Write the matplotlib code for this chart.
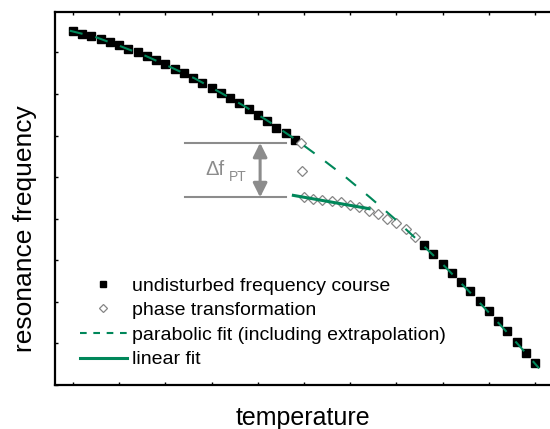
import matplotlib.pyplot as plt
from matplotlib.lines import Line2D

plt.rcParams['font.family'] = ['Liberation Sans', 'DejaVu Sans']

green = '#00875a'
grey = '#8c8c8c'

# undisturbed frequency course (arbitrary units)
temp_undisturbed = [0.0, 0.2, 0.4, 0.6, 0.8, 1.0, 1.2, 1.4, 1.6, 1.8,
                    2.0, 2.2, 2.4, 2.6, 2.8, 3.0, 3.2, 3.4, 3.6, 3.8,
                    4.0, 4.2, 4.4, 4.6, 4.8,
                    7.6, 7.8, 8.0, 8.2, 8.4, 8.6, 8.8, 9.0, 9.2, 9.4,
                    9.6, 9.8, 10.0]
freq_undisturbed = [8.51, 8.45, 8.39, 8.32, 8.24, 8.17, 8.08, 8.00, 7.91, 7.81,
                    7.71, 7.61, 7.50, 7.39, 7.27, 7.15, 7.03, 6.89, 6.77, 6.63,
                    6.49, 6.35, 6.19, 6.05, 5.90,
                    3.36, 3.14, 2.92, 2.70, 2.48, 2.25, 2.01, 1.77, 1.53, 1.29,
                    1.04, 0.78, 0.52]

# phase transformation
temp_pt = [4.93, 4.96, 5.0, 5.2, 5.4, 5.6, 5.8, 6.0, 6.2, 6.4, 6.6, 6.8, 7.0, 7.2, 7.4]
freq_pt = [5.81, 5.15, 4.51, 4.47, 4.45, 4.42, 4.40, 4.34, 4.29, 4.18, 4.11, 3.99,
           3.89, 3.75, 3.55]

# parabolic fit (including extrapolation)
temp_parab = [-0.07, 0.48, 1.02, 1.56, 2.10, 2.64, 3.18, 3.72, 4.26, 4.81,
              5.35, 5.89, 6.43, 6.97, 7.51, 8.05, 8.59, 9.13, 9.68, 10.09]
freq_parab = [8.52, 8.37, 8.15, 7.92, 7.65, 7.37, 7.04, 6.70, 6.32, 5.91,
              5.47, 5.01, 4.51, 3.99, 3.43, 2.85, 2.23, 1.59, 0.92, 0.40]

# linear fit
temp_lin = [4.77, 6.41]
freq_lin = [4.56, 4.24]

# delta f_PT marker
df_top = 5.825
df_bottom = 4.512
df_x0, df_x1 = 2.42, 4.61
df_arrow_x = 4.05

fig = plt.figure(figsize=(5.5, 4.29), dpi=100)
ax = fig.add_axes([55 / 550, 1 - 385 / 429, 498 / 550, 373 / 429])

ax.plot(temp_parab, freq_parab, color=green, lw=1.5, ls=(0, (6.3, 6.3)), zorder=3)
ax.plot(temp_lin, freq_lin, color=green, lw=2.2, zorder=3)
ax.plot(temp_undisturbed, freq_undisturbed, 's', color='black', ms=5.2, zorder=2)
ax.plot(temp_pt, freq_pt, 'D', mfc='white', mec='#858585', mew=0.9, ms=4.8, zorder=2)

ax.plot([df_x0, df_x1], [df_top, df_top], color=grey, lw=1.5)
ax.plot([df_x0, df_x1], [df_bottom, df_bottom], color=grey, lw=1.5)
ax.annotate('', xy=(df_arrow_x, df_top), xytext=(df_arrow_x, df_bottom),
            arrowprops=dict(arrowstyle='<|-|>', color=grey, lw=2.2,
                            mutation_scale=21, shrinkA=0, shrinkB=0))
ax.text(2.87, 5.05, '\u0394f', color=grey, fontsize=14.5, va='baseline')
ax.text(3.37, 4.91, 'PT', color=grey, fontsize=10, va='baseline')

ax.set_xlim(-0.39, 10.39)
ax.set_ylim(0, 8.97)
ax.set_xticks(range(0, 11))
ax.set_yticks(range(0, 9))
ax.tick_params(direction='in', length=2.5, width=1, top=True, right=False,
               labelbottom=False, labelleft=False)
for s in ax.spines.values():
    s.set_linewidth(1.6)

handles = [
    Line2D([], [], ls='none', marker='s', color='black', ms=5),
    Line2D([], [], ls='none', marker='D', mfc='white', mec='#858585', mew=0.9, ms=4.2),
    Line2D([], [], color=green, lw=1.5, ls=(0, (3.2, 3.2))),
    Line2D([], [], color=green, lw=2.2),
]
labels = ['undisturbed frequency course', 'phase transformation',
          'parabolic fit (including extrapolation)', 'linear fit']
ax.legend(handles, labels, loc='upper left', bbox_to_anchor=(80 / 550, 1 - 277 / 429),
          bbox_transform=fig.transFigure, frameon=False, fontsize=14,
          handlelength=2.4, handletextpad=0.25, labelspacing=0.36,
          borderpad=0, borderaxespad=0, numpoints=1)

fig.text(302.5 / 550, 1 - 425 / 429, 'temperature', fontsize=18,
         ha='center', va='baseline')
fig.text(25 / 550, 1 - 229 / 429, 'resonance frequency', fontsize=19,
         rotation=90, ha='center', va='center')

fig.savefig('out.png', dpi=100)
